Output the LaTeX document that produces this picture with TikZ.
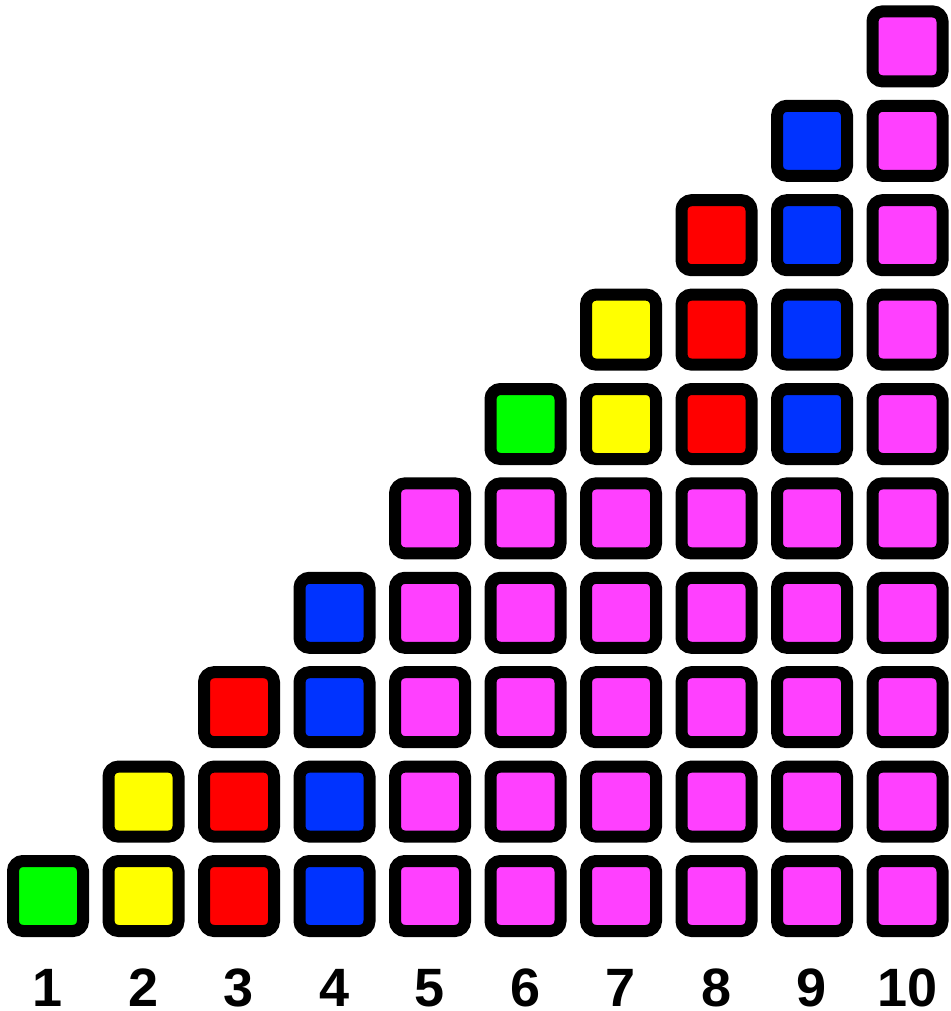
\documentclass[tikz,border=0pt]{standalone}
\usepackage{fontspec}
\setmainfont{Liberation Sans}
\definecolor{cgreen}{RGB}{0,255,0}
\definecolor{cyellow}{RGB}{255,255,0}
\definecolor{cred}{RGB}{255,0,0}
\definecolor{cblue}{RGB}{0,51,255}
\definecolor{cmag}{RGB}{255,64,255}
\begin{document}
\begin{tikzpicture}[x=1pt,y=-1pt,
  sq/.style={draw=black, line width=12pt, rounded corners=10pt, minimum size=70pt, inner sep=0pt, outer sep=0pt},
  lab/.style={font=\fontsize{54}{60}\selectfont\bfseries, anchor=base, inner sep=0pt}]
\useasboundingbox (0,0) rectangle (950,1011);
% column colours for the first five rows (bottom) and the extra rows
\foreach \c/\col in {1/cgreen,2/cyellow,3/cred,4/cblue,5/cmag}{
  \pgfmathsetmacro{\x}{48+(\c-1)*95.5}
  \foreach \r in {1,...,\c}{
    \pgfmathsetmacro{\y}{896-(\r-1)*94.4}
    \node[sq, fill=\col] (s-\c-\r) at (\x,\y) {};
  }
  \node[lab] (l-\c) at (\x,1006) {\c};
}
\foreach \c/\col in {6/cgreen,7/cyellow,8/cred,9/cblue,10/cmag}{
  \pgfmathsetmacro{\x}{48+(\c-1)*95.5}
  \foreach \r in {1,...,5}{
    \pgfmathsetmacro{\y}{896-(\r-1)*94.4}
    \node[sq, fill=cmag] (s-\c-\r) at (\x,\y) {};
  }
  \foreach \r in {6,...,\c}{
    \pgfmathsetmacro{\y}{896-(\r-1)*94.4}
    \node[sq, fill=\col] (s-\c-\r) at (\x,\y) {};
  }
  \node[lab] (l-\c) at (\x,1006) {\c};
}
\end{tikzpicture}
\end{document}
